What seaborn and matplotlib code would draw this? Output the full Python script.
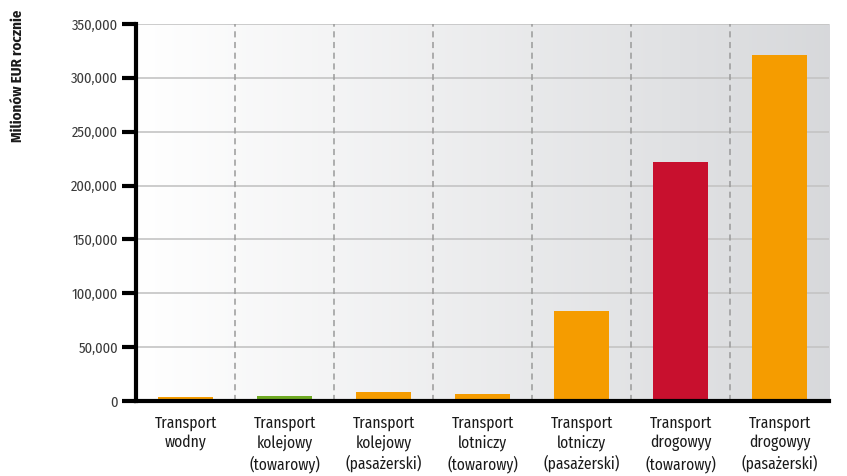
import numpy as np
import matplotlib
matplotlib.use("Agg")
import matplotlib.pyplot as plt
import seaborn as sns
from matplotlib.ticker import FuncFormatter, FixedLocator

categories = [
    "Transport\nwodny",
    "Transport\nkolejowy\n(towarowy)",
    "Transport\nkolejowy\n(pasażerski)",
    "Transport\nlotniczy\n(towarowy)",
    "Transport\nlotniczy\n(pasażerski)",
    "Transport\ndrogowyy\n(towarowy)",
    "Transport\ndrogowyy\n(pasażerski)",
]
values = [3500, 4500, 8000, 6500, 84000, 222000, 321000]
bar_colors = ["#F59C00", "#6FAA23", "#F59C00", "#F59C00", "#F59C00", "#C8102E", "#F59C00"]
y_ticks = [0, 50000, 100000, 150000, 200000, 250000, 300000, 350000]
y_label = "Milionów EUR rocznie"

sns.set_theme(style="white")
plt.rcParams["font.family"] = ["Fira Sans Condensed", "Asap Condensed", "Barlow Semi Condensed", "DejaVu Sans"]

fig = plt.figure(figsize=(8.47, 4.76), dpi=100)
ax = fig.add_axes([136/847, 1 - 401/476, (829-136)/847, (401-24)/476])

# gradient background
grad = np.linspace(0, 1, 256)
c0 = np.array([1.0, 1.0, 1.0])
c1 = np.array([0.845, 0.85, 0.86])
img = (c0[None, :] * (1 - grad[:, None]) + c1[None, :] * grad[:, None])[None, :, :]
ax.imshow(img, extent=[-0.5, 6.5, 0, 350000], aspect="auto", zorder=0)

# horizontal grid
for yv in y_ticks[1:]:
    ax.axhline(yv, color="#c4c4c4", lw=1.2, zorder=1)
# vertical dashed separators
for xv in np.arange(0.5, 6.5, 1.0):
    ax.axvline(xv, color="#9a9a9a", lw=1.1, ls=(0, (4, 3)), zorder=1)

sns.barplot(x=categories, y=values, hue=categories, palette=bar_colors,
            width=0.55, legend=False, ax=ax, zorder=3, saturation=1, linewidth=0)

ax.set_xlim(-0.5, 6.5)
ax.set_ylim(0, 350000)
ax.set_yticks(y_ticks)
ax.yaxis.set_major_formatter(FuncFormatter(lambda v, p: f"{int(v):,}"))
ax.xaxis.set_minor_locator(FixedLocator(np.arange(-0.5, 6.0, 1.0)))
ax.tick_params(axis="x", which="major", length=0, pad=10, labelsize=11.2, colors="#1a1a1a")
ax.tick_params(axis="x", which="minor", length=10, width=3, color="black", direction="out")
ax.tick_params(axis="y", which="major", length=10, width=3, color="black", direction="out",
               labelsize=10.5, labelcolor="#3a3a3a", pad=3, left=True)
for lab in ax.get_xticklabels():
    lab.set_linespacing(1.28)

for s in ["top", "right"]:
    ax.spines[s].set_visible(False)
for s in ["left", "bottom"]:
    ax.spines[s].set_color("black")
    ax.spines[s].set_linewidth(3)
    ax.spines[s].set_zorder(5)
ax.set_xlabel("")
ax.set_ylabel("")

fig.text(18/847, 1 - 10/476, y_label, rotation=90, ha="center", va="top",
         fontsize=10.8, fontweight="bold", color="#1a1a1a")

fig.savefig("out.png", dpi=100)
